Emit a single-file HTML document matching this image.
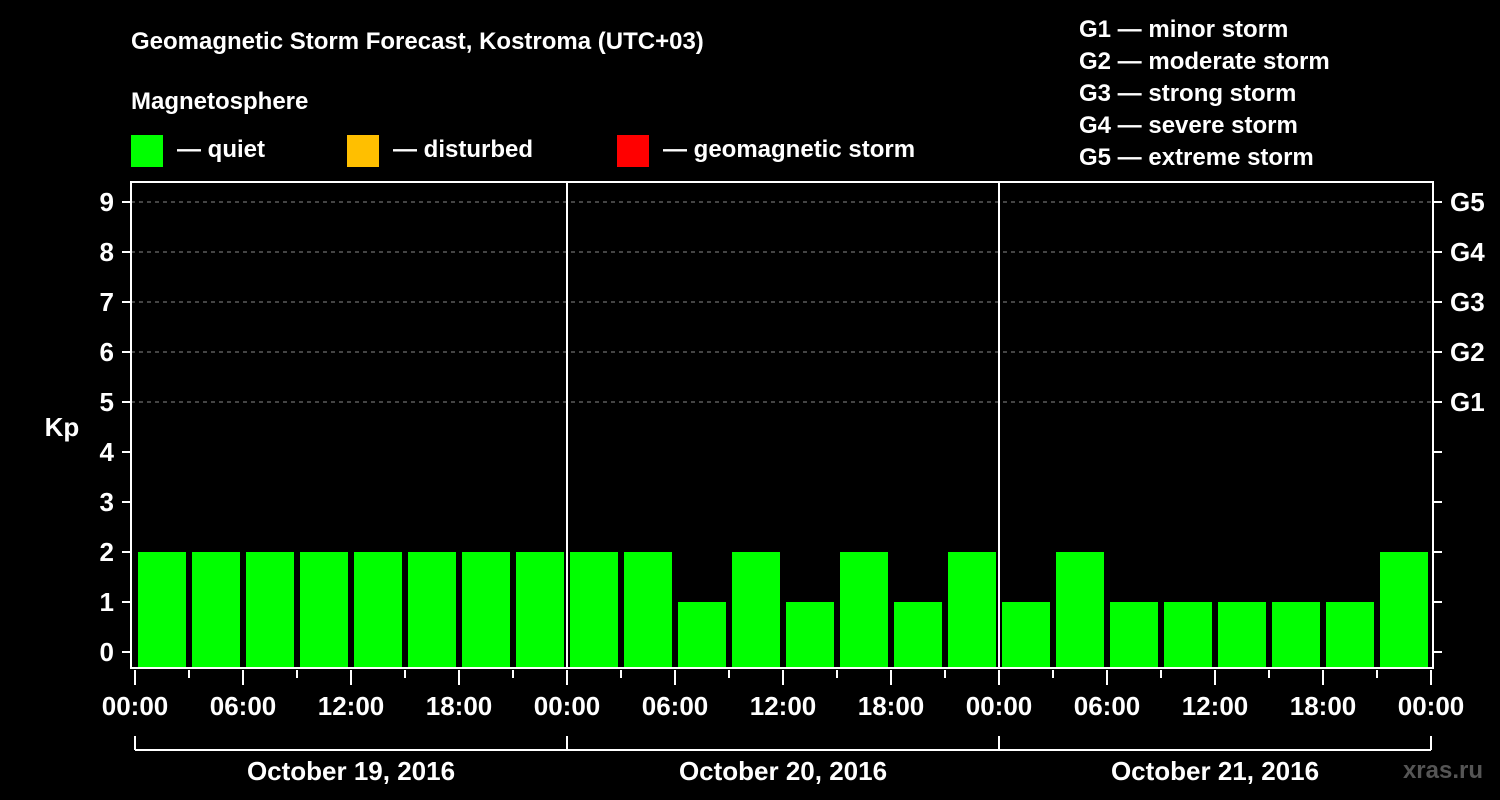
<!DOCTYPE html>
<html><head><meta charset="utf-8"><style>
body{margin:0;background:#000;}
svg{display:block;font-family:"Liberation Sans",Arial,sans-serif;font-weight:bold;}
</style></head><body>
<svg id="chart" width="1500" height="800" viewBox="0 0 1500 800">
<rect width="1500" height="800" fill="#000"/>
<text x="131" y="49" fill="#fff" font-size="24">Geomagnetic Storm Forecast, Kostroma (UTC+03)</text>
<text x="131" y="109" fill="#fff" font-size="24">Magnetosphere</text>
<g><rect x="131" y="135" width="32" height="32" fill="#00ff00"/><text x="177" y="157" fill="#fff" font-size="24">— quiet</text></g>
<g><rect x="347" y="135" width="32" height="32" fill="#ffbf00"/><text x="393" y="157" fill="#fff" font-size="24">— disturbed</text></g>
<g><rect x="617" y="135" width="32" height="32" fill="#ff0000"/><text x="663" y="157" fill="#fff" font-size="24">— geomagnetic storm</text></g>
<g font-size="24" fill="#fff">
<text x="1079" y="37">G1 — minor storm</text>
<text x="1079" y="69">G2 — moderate storm</text>
<text x="1079" y="101">G3 — strong storm</text>
<text x="1079" y="133">G4 — severe storm</text>
<text x="1079" y="165">G5 — extreme storm</text>
</g>
<text x="62" y="436" fill="#fff" font-size="26" text-anchor="middle">Kp</text>
<text x="1483" y="778" fill="#555" font-size="24" text-anchor="end">xras.ru</text>
<g id="plot"></g>
</svg>
<script>
const days = ["October 19, 2016","October 20, 2016","October 21, 2016"];
const kpValues = [2,2,2,2,2,2,2,2, 2,2,1,2,1,2,1,2, 1,2,1,1,1,1,1,2];
const yTicks = [0,1,2,3,4,5,6,7,8,9];
const gLabels = ["G1","G2","G3","G4","G5"];
const gLevels = [5,6,7,8,9];
const hourLabels = ["00:00","06:00","12:00","18:00"];

const NS="http://www.w3.org/2000/svg";
const g=document.getElementById('plot');
const L=131,R=1433,T=182,B=668,X0=135,dayW=432;
const y=v=>652-v*50;
const x=h=>X0+h*dayW/24;
function mk(t,a){const e=document.createElementNS(NS,t);for(const k in a)e.setAttribute(k,a[k]);g.appendChild(e);return e;}

gLevels.forEach((v,i)=>{
 const l=mk('line',{x1:L,x2:R,y1:y(v),y2:y(v),stroke:'#888','stroke-dasharray':'4,4','stroke-width':1});
 
 
 const t=mk('text',{x:1450,y:y(v)+9,fill:'#fff','font-size':26});
 t.textContent=gLabels[i];
 
 
});
kpValues.forEach((v,i)=>{
 const cls=v>=5?'#ff0000':(v>=4?'#ffbf00':'#00ff00');
 const r=mk('rect',{x:x(i*3)+3,y:y(v),width:48,height:B-y(v),fill:cls});
 
 
});
yTicks.forEach(v=>{
 mk('line',{x1:122,x2:L,y1:y(v),y2:y(v),stroke:'#fff','stroke-width':2});
 mk('line',{x1:R,x2:1442,y1:y(v),y2:y(v),stroke:'#fff','stroke-width':2});
 const t=mk('text',{x:114,y:y(v)+9,fill:'#fff','font-size':26,'text-anchor':'end'});
 t.textContent=v;
 
 
});
const frame=mk('rect',{x:L,y:T,width:R-L,height:B-T,fill:'none',stroke:'#fff','stroke-width':2});


for(let d=1;d<days.length;d++){mk('line',{x1:x(d*24),x2:x(d*24),y1:T,y2:B,stroke:'#fff','stroke-width':2});}
for(let h=0;h<=days.length*24;h+=3){
 const major=h%6===0;
 mk('line',{x1:x(h),x2:x(h),y1:B+2,y2:major?B+17:B+10,stroke:'#fff','stroke-width':2});
 if(major){
  const t=mk('text',{x:x(h),y:715,fill:'#fff','font-size':26,'text-anchor':'middle'});
  t.textContent=hourLabels[(h%24)/6];
  
  
 }
}
mk('line',{x1:x(0),x2:x(days.length*24),y1:750,y2:750,stroke:'#fff','stroke-width':2});
days.forEach((d,i)=>{
 mk('line',{x1:x(i*24),x2:x(i*24),y1:736,y2:750,stroke:'#fff','stroke-width':2});
 const t=mk('text',{x:x(i*24+12),y:780,fill:'#fff','font-size':26,'text-anchor':'middle'});
 t.textContent=d;
 
 
});
mk('line',{x1:x(days.length*24),x2:x(days.length*24),y1:736,y2:750,stroke:'#fff','stroke-width':2});
</script>
</body></html>
